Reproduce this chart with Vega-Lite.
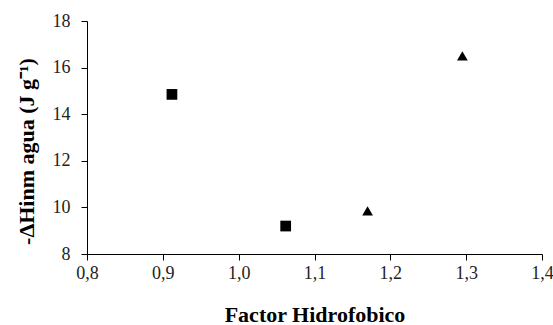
{
  "$schema": "https://vega.github.io/schema/vega-lite/v6.json",
  "autosize": "none",
  "width": 455,
  "height": 233,
  "padding": {"left": 87, "top": 21, "right": 11, "bottom": 71},
  "background": "white",
  "config": {"view": {"stroke": null}, "font": "Liberation Serif"},
  "data": {"values": [
    {"factor": 0.912, "h": 14.85, "grupo": "A"},
    {"factor": 1.062, "h": 9.2, "grupo": "A"},
    {"factor": 1.170, "h": 9.85, "grupo": "B"},
    {"factor": 1.295, "h": 16.5, "grupo": "B"}
  ]},
  "mark": {"type": "point", "filled": true, "opacity": 1, "color": "black", "size": 115},
  "encoding": {
    "x": {"field": "factor", "type": "quantitative",
      "scale": {"domain": [0.8, 1.4], "nice": false, "zero": false},
      "axis": {"values": [0.8, 0.9, 1.0, 1.1, 1.2, 1.3, 1.4], "grid": false,
        "labelExpr": "replace(format(datum.value, '.1f'), '.', ',')",
        "title": "Factor Hidrofobico", "titleFont": "Liberation Serif", "titleFontSize": 22, "titleFontWeight": "bold",
        "titleColor": "black", "titlePadding": 22,
        "labelFont": "Liberation Serif", "labelFontSize": 18, "labelColor": "#222", "labelPadding": 4,
        "domainColor": "black", "tickColor": "black", "tickSize": 6, "labelFlush": false}},
    "y": {"field": "h", "type": "quantitative",
      "scale": {"domain": [8, 18], "nice": false, "zero": false},
      "axis": {"values": [8, 10, 12, 14, 16, 18], "grid": false,
        "title": "-ΔHinm  agua (J g⁻¹)", "titleFont": "Liberation Serif", "titleFontSize": 22, "titleFontWeight": "bold",
        "titleColor": "black", "titlePadding": 14, "titleY": 130,
        "labelFont": "Liberation Serif", "labelFontSize": 18, "labelColor": "#222", "labelPadding": 11,
        "domainColor": "black", "tickColor": "black", "tickSize": 6}},
    "shape": {"field": "grupo", "type": "nominal",
      "scale": {"domain": ["A", "B"], "range": ["square", "triangle-up"]}, "legend": null}
  }
}
